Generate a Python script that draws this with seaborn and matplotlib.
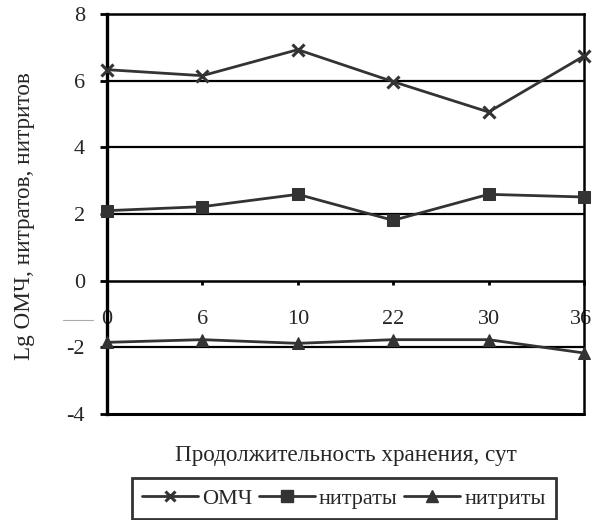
import matplotlib
matplotlib.use("Agg")
import matplotlib.pyplot as plt
import matplotlib.transforms as mtrans
from matplotlib.lines import Line2D
import seaborn as sns
import pandas as pd

# Storage time (days) and measured values
days = ["0", "6", "10", "22", "30", "36"]
omch = [6.33, 6.15, 6.93, 5.97, 5.06, 6.74]
nitrates = [2.10, 2.22, 2.59, 1.81, 2.59, 2.51]
nitrites = [-1.85, -1.77, -1.88, -1.77, -1.77, -2.17]
series_names = ["ОМЧ", "нитраты", "нитриты"]
y_ticks = [-4, -2, 0, 2, 4, 6, 8]

sns.set_theme(style="white")
plt.rcParams["font.family"] = ["Liberation Serif", "DejaVu Serif"]
FS = 16

rows = []
for name, vals in zip(series_names, [omch, nitrates, nitrites]):
    for i, v in enumerate(vals):
        rows.append({"pos": i, "day": days[i], "value": v, "series": name})
df = pd.DataFrame(rows)

fig = plt.figure(figsize=(5.92, 5.2), dpi=100)
ax = fig.add_axes([107 / 592, 1 - 414 / 520, 477 / 592, 400 / 520])

# horizontal grid lines
for g in [-2, 2, 4, 6]:
    ax.axhline(g, color="black", lw=1.6, zorder=1)

line_color = "#333333"
sns.lineplot(
    data=df, x="pos", y="value", hue="series", style="series",
    palette=[line_color] * 3, dashes=False,
    markers={"ОМЧ": "X", "нитраты": "s", "нитриты": "^"},
    markersize=8, lw=2.0, ax=ax, legend=False, zorder=3,
)
for ln in ax.lines:
    ln.set_clip_on(False)
    if ln.get_marker() == "X":
        ln.set_marker("x")
        ln.set_markeredgewidth(2.2)
        ln.set_markersize(8)
    ln.set_markeredgecolor(line_color)

ax.set_xlim(0, 5)
ax.set_ylim(-4, 8)
ax.set_yticks(y_ticks)
ax.set_yticklabels([str(t) for t in y_ticks], fontsize=FS)
ax.set_xticks(range(len(days)))
ax.set_xticklabels(days, fontsize=FS)
ax.set_xlabel("")
ax.set_ylabel("")

# category axis runs along zero
ax.spines["bottom"].set_position(("data", 0))
for side in ["bottom", "top", "right"]:
    ax.spines[side].set_linewidth(1.8)
    ax.spines[side].set_color("black")
ax.spines["left"].set_linewidth(2.4)
ax.spines["left"].set_color("black")
ax.axhline(-4, color="black", lw=2.2, clip_on=False, zorder=4)

ax.tick_params(axis="x", direction="out", length=3, width=2, color="black",
               pad=18, labelsize=FS, bottom=True)
ax.tick_params(axis="y", direction="out", length=5, width=2, color="black",
               pad=11, labelsize=FS, left=True)
# last category label sits against the right border
last = ax.get_xticklabels()[-1]
last.set_horizontalalignment("right")
last.set_transform(last.get_transform()
                   + mtrans.ScaledTranslation(8 / 100, 0, fig.dpi_scale_trans))

fig.text(345.5 / 592, 1 - 455 / 520, "Продолжительность хранения, сут",
         ha="center", va="center", fontsize=16.7)
fig.text(25 / 592, 1 - 216 / 520, "Lg ОМЧ, нитратов, нитритов",
         ha="center", va="center", rotation=90, fontsize=16.7)

# faint dash left of the zero label
fig.add_artist(Line2D([63 / 592, 93 / 592], [1 - 320 / 520, 1 - 320 / 520],
                      color="#aaaaaa", lw=0.8))

handles = [
    Line2D([], [], color=line_color, lw=2, marker="x", markersize=7,
           markeredgewidth=2.2),
    Line2D([], [], color=line_color, lw=2, marker="s", markersize=8),
    Line2D([], [], color=line_color, lw=2, marker="^", markersize=8),
]
leg = fig.legend(handles, series_names, loc="center",
                 bbox_to_anchor=(344 / 592, 1 - 498.5 / 520), ncol=3,
                 fontsize=FS, frameon=True, fancybox=False,
                 handlelength=2.5, handletextpad=0.2, columnspacing=0.3,
                 borderpad=0.45, borderaxespad=0)
leg.get_frame().set_edgecolor("black")
leg.get_frame().set_linewidth(2)

fig.savefig("out.png", dpi=100)
